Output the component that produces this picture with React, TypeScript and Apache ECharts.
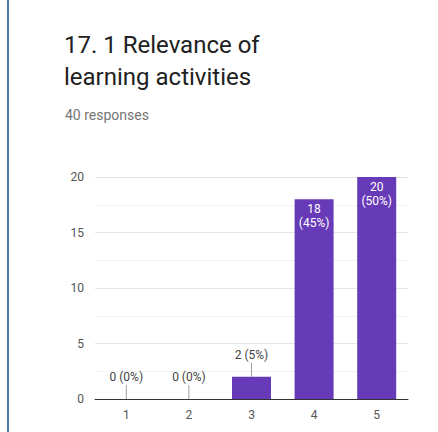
import React, { useEffect, useRef } from "react";
import * as echarts from "echarts";

const categories = ["1", "2", "3", "4", "5"];
const counts = [0, 0, 2, 18, 20];
const percents = ["0%", "0%", "5%", "45%", "50%"];
const yTicks = [0, 5, 10, 15, 20];
const titleLines = ["17. 1 Relevance of", "learning activities"];
const subtitle = "40 responses";

const PURPLE = "#673ab7";
const INSIDE_MIN = 5;

export default function App() {
  const ref = useRef<HTMLDivElement>(null);
  useEffect(() => {
    if (!ref.current) return;
    const chart = echarts.init(ref.current, undefined, { renderer: "svg" });
    const barData = counts.map((v, i) => {
      const inside = v >= INSIDE_MIN;
      return {
        value: v,
        label: inside
          ? {
              show: true,
              position: "insideTop",
              distance: 3,
              color: "#ffffff",
              formatter: `${v}\n(${percents[i]})`,
              lineHeight: 14,
            }
          : {
              show: true,
              position: "top",
              distance: 16,
              color: "#444444",
              formatter: `${v} (${percents[i]})`,
            },
      };
    });
    chart.setOption({
      animation: false,
      textStyle: { fontFamily: "Roboto" },
      title: [
        {
          text: titleLines.join("\n"),
          left: 59,
          top: 24,
          textStyle: {
            fontFamily: "Roboto",
            fontSize: 24,
            lineHeight: 32,
            fontWeight: "normal",
            color: "#212121",
          },
        },
        {
          text: subtitle,
          left: 60,
          top: 103,
          textStyle: {
            fontFamily: "Roboto",
            fontSize: 14,
            fontWeight: "normal",
            color: "#757575",
          },
        },
      ],
      graphic: [
        {
          type: "rect",
          shape: { x: 7, y: 0, width: 2, height: 432 },
          style: { fill: "#4a78b0" },
        },
      ],
      grid: { left: 95, right: 30, top: 177, bottom: 33, containLabel: false },
      xAxis: {
        type: "category",
        data: categories,
        axisLine: { lineStyle: { color: "#333333", width: 1 } },
        axisTick: { show: false },
        axisLabel: { color: "#555555", fontSize: 12, margin: 10 },
      },
      yAxis: {
        type: "value",
        min: yTicks[0],
        max: yTicks[yTicks.length - 1],
        interval: 5,
        axisLine: { show: false },
        axisTick: { show: false },
        axisLabel: { color: "#555555", fontSize: 12, margin: 11 },
        splitLine: { lineStyle: { color: "#e6e6e6" } },
        minorTick: { show: false, splitNumber: 2 },
        minorSplitLine: { show: true, lineStyle: { color: "#f2f2f2" } },
      },
      series: [
        {
          type: "bar",
          data: barData,
          barWidth: 39,
          itemStyle: { color: PURPLE },
          label: { fontSize: 12, fontFamily: "Roboto" },
        },
        {
          type: "custom",
          data: counts.map((v, i) => [i, v]),
          renderItem: (params: any, api: any) => {
            const v = api.value(1);
            if (v >= INSIDE_MIN) return null;
            const p = api.coord([api.value(0), v]);
            return {
              type: "line",
              shape: { x1: p[0], y1: p[1], x2: p[0], y2: p[1] - 14 },
              style: { stroke: "#9e9e9e", lineWidth: 1 },
              z2: 10,
            };
          },
          z: 5,
          silent: true,
        },
      ],
    });
    return () => chart.dispose();
  }, []);
  return (
    <div
      ref={ref}
      style={{ position: "fixed", left: 0, top: 0, width: 438, height: 432, background: "#fff" }}
    />
  );
}
